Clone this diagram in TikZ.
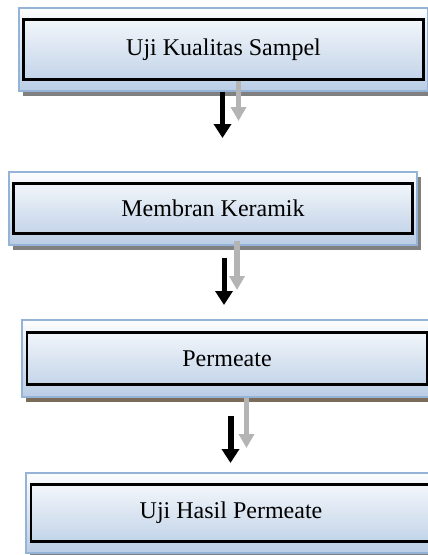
\documentclass[tikz,border=0pt]{standalone}
\usepackage{fontspec}
\setmainfont{Liberation Serif}
\usepackage{tikz}
\usetikzlibrary{arrows.meta, shadows}

\definecolor{birutepi}{RGB}{149,179,215}
\definecolor{birubawah}{RGB}{185,205,229}
\definecolor{bayangabu}{RGB}{128,128,128}
\definecolor{bayangcoklat}{RGB}{122,108,88}
\definecolor{abupanah}{RGB}{180,180,180}

\begin{document}
\begin{tikzpicture}[x=1pt, y=-1pt,
    luar/.style={rectangle, draw=birutepi, line width=1.2pt, top color=white!96!birubawah, bottom color=birubawah,
        drop shadow={shadow xshift=4pt, shadow yshift=-5pt, fill=bayangabu, opacity=1}},
    dalam/.style={rectangle, draw=black, line width=2.5pt, font=\fontsize{24}{28}\selectfont},
    panah/.style={draw=black, line width=5pt, -{Triangle[width=17pt, length=14pt]}},
    panahabu/.style={draw=abupanah, line width=5.5pt, -{Triangle[width=15pt, length=14pt]}}]
    \useasboundingbox (0,0) rectangle (428,555);

    \node[luar, minimum width=409pt, minimum height=83pt] (s1) at (223.5, 49.5) {};
    \node[dalam, minimum width=400pt, minimum height=60pt] (t1) at (s1) {Uji Kualitas Sampel};

    \node[luar, minimum width=408pt, minimum height=73pt] (s2) at (213, 208.5) {};
    \node[dalam, minimum width=399pt, minimum height=50pt] (t2) at (s2) {Membran Keramik};

    \node[luar, minimum width=410pt, minimum height=77pt,
        drop shadow={shadow xshift=4pt, shadow yshift=-5pt, fill=bayangcoklat, opacity=1}] (s3) at (227, 358.5) {};
    \node[dalam, minimum width=400pt, minimum height=52pt] (t3) at (s3) {Permeate};

    \node[luar, minimum width=410pt, minimum height=80pt] (s4) at (231, 513) {};
    \node[dalam, minimum width=400pt, minimum height=57pt] (t4) at (s4) {Uji Hasil Permeate};

    \coordinate (a1) at (222.5, 138);
    \coordinate (g1) at (238.5, 121);
    \coordinate (a2) at (224, 305);
    \coordinate (g2) at (237, 290);
    \coordinate (a3) at (230.5, 463);
    \coordinate (g3) at (246.5, 448);

    \draw[panahabu] (t1.south -| g1) -- (g1);
    \draw[panah] (s1.south -| a1) -- (a1);
    \draw[panahabu, shorten <=6pt] (t2.south -| g2) -- (g2);
    \draw[panah, shorten <=12pt] (s2.south -| a2) -- (a2);
    \draw[panahabu] (s3.south -| g3) -- (g3);
    \draw[panah, line width=6pt, shorten <=18pt] (s3.south -| a3) -- (a3);
\end{tikzpicture}
\end{document}
